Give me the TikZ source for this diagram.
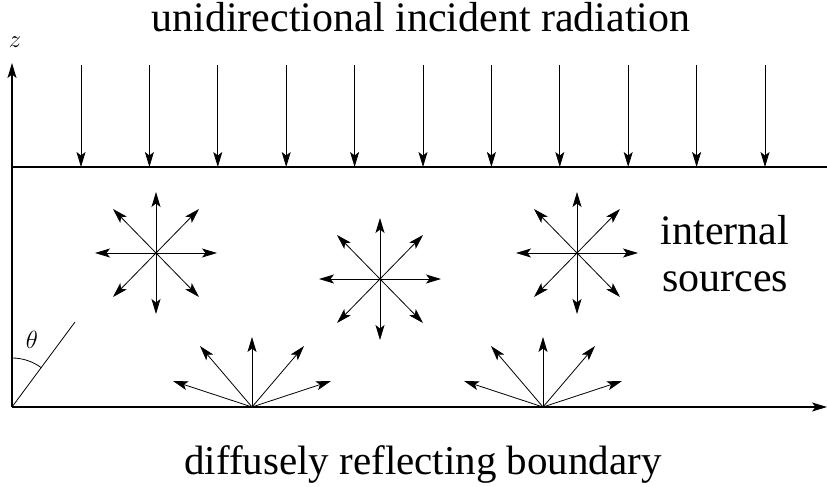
\documentclass[tikz,border=0pt]{standalone}
\usepackage{fontspec}
\setmainfont{Liberation Serif}
\usetikzlibrary{arrows.meta}
\begin{document}
\begin{tikzpicture}[x=1pt,y=1pt,
  tip/.style={-{Stealth[length=15pt,width=9pt,inset=3.5pt]}},
  ray/.style={tip, line width=0.8pt},
  axis/.style={tip, line width=1.1pt},
  big/.style={font=\fontsize{42}{47}\selectfont, inner sep=0pt},
  sym/.style={inner sep=0pt}]
\useasboundingbox (0,0) rectangle (827,487);
% axes
\coordinate (O) at (12,80);
\coordinate (ztip) at (12,424);
\coordinate (xtip) at (827,80);
\coordinate (tl) at (12,320);
\coordinate (tr) at (827,320);
\draw[axis] (O) -- (ztip);
\draw[axis] (O) -- (xtip);
\draw[line width=1.1pt] (tl) -- (tr);
\node[sym, font=\fontsize{27}{27}\selectfont] (zlab) at (15,445) {$z$};
% incident rays
\foreach \i in {0,...,10} {
  \coordinate (s\i) at ({81+68.4*\i},422);
  \coordinate (e\i) at ({81+68.4*\i},320);
  \draw[ray] (s\i) -- (e\i);
}
% internal sources
\foreach \c/\x/\y in {a/156/234, b/380/208, c/577/234} {
  \coordinate (\c) at (\x,\y);
  \foreach \dx/\dy in {61/0, -61/0, 0/61, 0/-61, 43/44, -43/44, 43/-44, -43/-44} {
    \draw[ray] (\c) -- ++(\dx,\dy);
  }
}
% diffuse reflection fans
\foreach \c/\x in {f1/252, f2/543} {
  \coordinate (\c) at (\x,80);
  \foreach \dx/\dy in {79/26, -79/26, 52/61, -52/61, 0/70} {
    \draw[ray] (\c) -- ++(\dx,\dy);
  }
}
% theta
\coordinate (th) at (75,165);
\draw[line width=0.8pt] (O) -- (th);
\draw[line width=0.8pt] (12,129) arc[start angle=90, end angle=53.5, radius=49];
\node[sym, font=\fontsize{32}{32}\selectfont] (thlab) at (32,147) {$\theta$};
% texts
\node[big, anchor=base] (top) at (421,455) {unidirectional incident radiation};
\node[big, anchor=base] (int) at (725,242) {internal};
\node[big, anchor=base] (src) at (725,195) {sources};
\node[big, anchor=base, font=\fontsize{41}{47}\selectfont] (bot) at (423,12) {diffusely reflecting boundary};
\end{tikzpicture}
\end{document}
